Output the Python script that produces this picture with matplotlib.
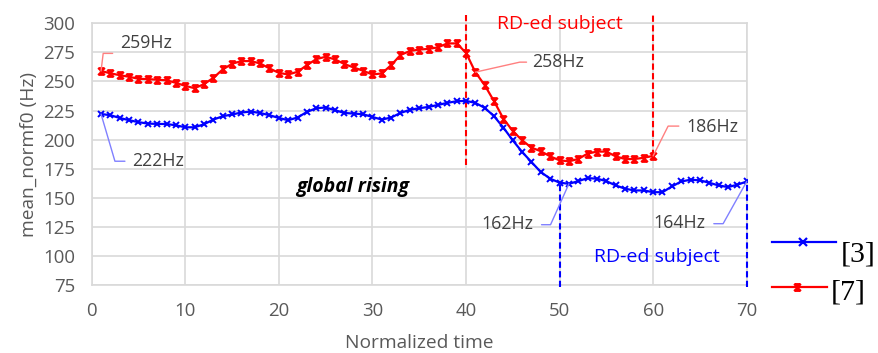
import numpy as np
import matplotlib
matplotlib.use("Agg")
import matplotlib.pyplot as plt
from matplotlib.path import Path
from matplotlib.lines import Line2D

# series (normalized time 1..70 / 1..60)
time_blue = list(range(1, 71))
f0_blue = [222, 221, 218.6, 216.7, 215, 213.8, 213.5, 213.4, 212.3, 210.6,
           210.6, 213.2, 217.2, 220.1, 221.6, 223.3, 224.1, 222.9, 221, 218.6,
           216.7, 219, 223.8, 227, 227.6, 225.3, 222.9, 222.4, 221.8, 219.5,
           217.2, 219, 222.9, 225.6, 227, 228.1, 229.8, 231.6, 233, 233.3,
           231.6, 227.3, 220.1, 210.3, 199.4, 189.4, 180.7, 172.1, 166.4, 163,
           162, 164.3, 166.9, 166.4, 164.3, 160.6, 157.8, 156.3, 156.3, 154.8,
           154.8, 159.7, 164, 165.5, 165, 162.9, 160.6, 159.2, 161.2, 164]
time_red = list(range(1, 61))
f0_red = [259, 257, 255.4, 254, 252.3, 252, 251.5, 251, 248.8, 246.2,
          244.2, 247.7, 253.1, 260.3, 265.2, 267.5, 267.5, 265.5, 261.2, 257.4,
          256, 258.3, 264, 269.2, 271.2, 269, 265, 262, 259.2, 256,
          256.9, 264, 272.7, 276.2, 277.4, 278, 279.3, 282.7, 282.7, 274.7,
          258, 246.8, 233, 218, 207.4, 199.4, 193.1, 190, 185.6, 182.2,
          181.3, 183.4, 188, 189.7, 189.7, 185.6, 183.3, 183.3, 184.4, 186]

x_ticks = list(range(0, 71, 10))
y_ticks = list(range(75, 301, 25))

# RD-ed subject boundaries
red_bounds = [40, 60]
red_bound_low = [178, 186]
red_bound_high = 308
blue_bounds = [50, 70]
blue_bound_high = [162, 164]
blue_bound_low = 73

# value callouts: (time index, text)
callouts_red = [(1, "259Hz"), (41, "258Hz"), (60, "186Hz")]
callouts_blue = [(1, "222Hz"), (51, "162Hz"), (70, "164Hz")]

BLUE = "#0000ff"
RED = "#ff0000"
GRID = "#d9d9d9"
TXT = "#595959"

plt.rcParams["font.family"] = ["Open Sans", "DejaVu Sans"]

star = Path([(-1, -1), (1, 1), (-1, 1), (1, -1), (0, -1), (0, 1),
             (-0.8, 1), (0.8, 1), (-0.8, -1), (0.8, -1)],
            [Path.MOVETO, Path.LINETO] * 5)

fig = plt.figure(figsize=(8.79, 3.53), dpi=100)
ax = fig.add_axes([0.1043, 0.1926, 0.7452, 0.7414])

ax.plot(time_blue, f0_blue, color=BLUE, lw=1.6, marker="x", ms=5, mew=1.4, zorder=4)
ax.plot(time_red, f0_red, color=RED, lw=1.6, marker=star, ms=5, mew=1.3, zorder=4)

ax.set_xlim(0, 70)
ax.set_ylim(75, 300)
ax.set_xticks(x_ticks)
ax.set_yticks(y_ticks)
ax.grid(True, color=GRID, lw=1.2)
ax.set_axisbelow(True)
for s in ax.spines.values():
    s.set_color(GRID)
    s.set_linewidth(1.2)
ax.tick_params(length=0, labelsize=13.4, labelcolor=TXT, pad=12)
ax.set_xlabel("Normalized time", fontsize=13.8, color=TXT, labelpad=10)
ax.set_ylabel("mean_normf0 (Hz)", fontsize=13.8, color=TXT, labelpad=4)

dash = (0, (3, 1.6))
for xb, lo in zip(red_bounds, red_bound_low):
    ax.plot([xb, xb], [lo, red_bound_high], color=RED, lw=1.5, ls=dash,
            clip_on=False, zorder=3)
for xb, hi in zip(blue_bounds, blue_bound_high):
    ax.plot([xb, xb], [blue_bound_low, hi], color=BLUE, lw=1.5, ls=dash,
            clip_on=False, zorder=3)

ax.text(50, 299, "RD-ed subject", color=RED, fontsize=14, ha="center", va="center")
ax.text(60.4, 99.5, "RD-ed subject", color=BLUE, fontsize=14, ha="center", va="center")
ax.text(27.9, 159, "global rising", color="black", fontsize=14, fontweight="bold",
        fontstyle="italic", ha="center", va="center")

# leader geometry in pixels relative to the marked point
# (end of horizontal stub, angle of slanted segment, text offset, text alignment)
leaders = {
    "259Hz": ((11.6, 17.6), 83, (19, 27.5), "left"),
    "222Hz": ((23.9, -47.2), -73.6, (30.6, -47.2), "left"),
    "258Hz": ((51.2, 10), 12.7, (57.2, 10), "left"),
    "186Hz": ((25.7, 29.8), 63.3, (33.4, 28.5), "left"),
    "162Hz": ((-27.4, -40.9), 65.8, (-35.1, -40.6), "right"),
    "164Hz": ((-32.9, -42.2), 60.8, (-40.9, -42), "right"),
}


def callout(t, times, vals, label, lcolor):
    y = vals[times.index(t)]
    end, ang, toff, ha = leaders[label]
    ax.annotate("", xy=(t, y), xytext=end, textcoords="offset pixels",
                arrowprops=dict(arrowstyle="-", color=lcolor, lw=1.0,
                                shrinkA=0, shrinkB=0,
                                connectionstyle=f"angle,angleA=0,angleB={ang},rad=0"),
                annotation_clip=False, zorder=5)
    ax.annotate(label, xy=(t, y), xytext=toff, textcoords="offset pixels",
                ha=ha, va="center", fontsize=12.8, color="#404040",
                annotation_clip=False, zorder=5)


for t, label in callouts_red:
    callout(t, time_red, f0_red, label, "#ff8080")
for t, label in callouts_blue:
    callout(t, time_blue, f0_blue, label, "#8080ff")

# legend drawn by hand, outside the plot on the right
W, H = 879.0, 353.0
fig.add_artist(Line2D([771.7 / W, 836 / W], [1 - 241.7 / H] * 2, color=BLUE, lw=1.6))
fig.add_artist(Line2D([803.5 / W], [1 - 241.7 / H], color=BLUE, marker="x", ms=6, mew=1.6))
fig.add_artist(Line2D([771.7 / W, 826.7 / W], [1 - 286.7 / H] * 2, color=RED, lw=1.6))
fig.add_artist(Line2D([797 / W], [1 - 286.7 / H], color=RED, marker=star, ms=5, mew=1.4))
fig.text(841 / W, 1 - 254 / H, "[3]", family="Liberation Serif", fontsize=21.5,
         ha="left", va="center", color="black")
fig.text(831 / W, 1 - 292 / H, "[7]", family="Liberation Serif", fontsize=21.5,
         ha="left", va="center", color="black")

fig.savefig("out.png", dpi=100)
